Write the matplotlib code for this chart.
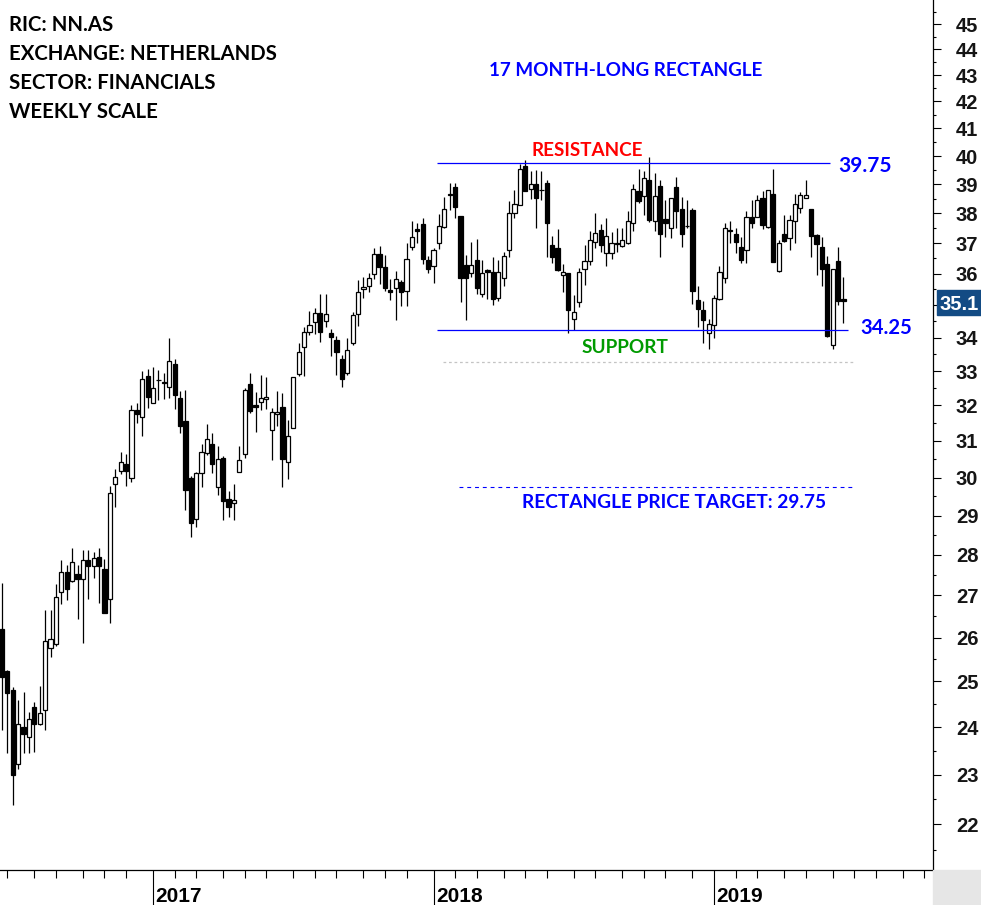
import numpy as np
import pandas as pd
import matplotlib
matplotlib.use("Agg")
from matplotlib import pyplot as plt
from matplotlib.patches import Rectangle
from matplotlib.ticker import FixedLocator, NullFormatter

# NN.AS weekly bars, first bar is the week ending 2016-06-24
start_date = "2016-06-24"

opens = [26.20, 25.24, 24.81, 23.23, 24.00, 23.79, 24.44, 24.07, 24.36, 25.77,
         25.86, 27.09, 27.57, 27.35, 27.52, 27.41, 27.87, 27.72, 27.94, 27.64,
         26.91, 29.82, 30.18, 30.36, 29.99, 31.87, 31.68, 32.86, 32.06, 32.73,
         32.65, 32.53, 33.21, 32.21, 31.56, 29.99, 28.90, 30.12, 30.66, 30.91,
         29.76, 30.52, 29.43, 29.32, 30.16, 30.63, 32.62, 32.02, 32.09, 32.19,
         31.30, 31.77, 31.95, 30.43, 31.36, 32.91, 33.71, 34.18, 34.49, 34.75,
         34.52, 34.13, 33.93, 33.36, 32.95, 33.85, 34.72, 35.50, 35.62, 35.98,
         36.64, 36.21, 35.48, 35.53, 35.73, 35.46, 36.88, 37.46, 37.63, 36.46,
         36.26, 36.99, 37.54, 38.63, 38.89, 37.90, 36.30, 36.01, 36.44, 35.34,
         36.12, 36.05, 35.24, 35.85, 36.77, 38.00, 38.30, 39.63, 38.83, 39.00,
         38.79, 39.06, 36.93, 36.83, 35.96, 36.01, 34.56, 35.11, 36.17, 36.41,
         37.04, 37.45, 36.69, 36.66, 37.02, 36.91, 36.99, 37.69, 38.76, 38.59,
         39.16, 37.75, 38.93, 37.80, 37.49, 38.89, 38.16, 37.58, 38.13, 35.16,
         34.85, 34.15, 34.38, 35.21, 35.85, 37.43, 37.32, 36.88, 36.79, 37.88,
         37.88, 38.51, 37.54, 38.67, 36.10, 37.32, 37.16, 37.75, 38.19, 38.54,
         38.16, 37.27, 36.86, 36.32, 33.78, 36.41, 35.21]

highs = [27.31, 25.26, 24.88, 24.59, 24.77, 24.32, 24.55, 24.90, 26.65, 26.65,
         27.27, 27.87, 27.74, 28.17, 27.74, 28.12, 28.12, 28.07, 28.17, 27.89,
         29.78, 30.23, 30.70, 30.64, 32.01, 32.08, 32.99, 33.05, 33.13, 33.03,
         32.95, 33.98, 33.35, 32.42, 32.45, 30.05, 30.16, 30.92, 31.48, 31.22,
         30.86, 30.59, 29.65, 29.83, 30.86, 32.50, 32.93, 32.40, 32.89, 32.82,
         31.92, 32.42, 32.35, 31.59, 32.82, 33.83, 34.33, 34.82, 34.92, 35.35,
         35.35, 34.28, 34.05, 33.48, 33.98, 34.78, 35.80, 35.89, 36.01, 36.83,
         36.90, 36.60, 35.83, 36.09, 35.80, 36.99, 37.73, 37.66, 37.83, 36.57,
         36.83, 37.97, 38.56, 39.05, 39.05, 37.90, 36.60, 37.03, 37.13, 36.44,
         36.14, 36.53, 36.44, 36.71, 38.41, 38.81, 39.73, 39.84, 39.47, 39.52,
         39.47, 39.14, 37.23, 37.46, 36.33, 36.01, 35.32, 36.19, 36.93, 37.41,
         38.00, 37.63, 37.83, 37.37, 37.49, 37.52, 38.07, 39.02, 39.55, 39.47,
         39.98, 39.38, 39.16, 38.47, 38.54, 39.26, 38.56, 38.45, 38.19, 35.61,
         35.14, 34.56, 35.32, 36.25, 37.67, 37.73, 37.49, 37.19, 38.07, 38.45,
         38.62, 38.77, 38.81, 39.55, 37.10, 37.94, 37.94, 38.67, 38.74, 39.16,
         38.16, 37.29, 37.19, 36.57, 36.17, 36.86, 35.90]

lows = [23.94, 23.45, 22.38, 23.11, 23.45, 23.45, 23.47, 24.05, 23.94, 25.55,
        25.80, 26.79, 26.89, 27.32, 26.44, 25.88, 26.92, 27.42, 26.82, 26.59,
        26.35, 29.23, 30.09, 29.78, 29.87, 31.51, 31.14, 31.94, 32.06, 32.16,
        32.18, 32.21, 31.90, 31.22, 29.14, 28.44, 28.71, 29.76, 30.61, 30.12,
        29.54, 28.88, 28.95, 28.88, 30.16, 30.54, 31.79, 31.26, 31.87, 31.89,
        30.48, 31.43, 29.74, 29.97, 31.36, 32.86, 32.86, 34.08, 34.10, 33.88,
        34.33, 33.46, 32.89, 32.52, 32.89, 33.78, 34.36, 35.23, 35.43, 35.83,
        35.67, 35.45, 35.18, 34.54, 34.97, 34.97, 36.79, 37.01, 36.33, 36.03,
        35.71, 36.80, 37.49, 38.10, 37.85, 35.11, 34.54, 35.90, 35.37, 35.27,
        35.21, 35.02, 35.14, 35.62, 36.55, 37.85, 38.30, 38.77, 38.48, 37.51,
        38.47, 36.53, 36.35, 36.10, 35.43, 34.13, 34.23, 34.95, 35.64, 36.28,
        36.83, 36.71, 36.25, 36.49, 36.71, 36.88, 36.96, 37.41, 38.34, 37.94,
        37.71, 37.41, 36.55, 37.21, 37.16, 37.52, 36.88, 37.49, 35.03, 34.33,
        33.83, 33.65, 33.98, 35.16, 35.71, 37.01, 36.68, 36.35, 36.35, 37.49,
        37.88, 37.46, 37.51, 36.39, 36.07, 37.04, 36.77, 37.01, 38.00, 38.54,
        36.55, 35.96, 35.61, 34.03, 33.65, 35.00, 34.46]

closes = [25.10, 24.74, 22.99, 24.06, 23.85, 24.17, 24.07, 24.30, 25.92, 25.96,
          26.95, 27.57, 27.15, 27.82, 27.41, 27.87, 27.72, 27.92, 27.72, 26.59,
          29.58, 30.01, 30.42, 30.18, 31.86, 31.75, 32.76, 32.23, 32.50, 32.74,
          32.66, 33.30, 32.29, 31.43, 29.67, 28.80, 30.12, 30.69, 31.05, 30.36,
          30.50, 29.37, 29.23, 29.41, 30.48, 32.45, 31.85, 31.96, 32.21, 32.25,
          31.82, 31.82, 30.50, 31.13, 32.82, 33.56, 34.16, 34.38, 34.75, 34.18,
          34.72, 34.03, 33.58, 32.76, 33.63, 34.70, 35.41, 35.57, 35.85, 36.64,
          36.23, 35.55, 35.43, 35.82, 35.41, 36.49, 37.19, 37.39, 36.49, 36.14,
          36.77, 37.56, 38.16, 38.67, 38.21, 35.85, 35.85, 36.30, 35.53, 36.01,
          36.07, 35.21, 36.05, 36.59, 38.00, 38.31, 39.55, 38.77, 39.02, 38.54,
          38.80, 37.69, 36.53, 36.12, 36.05, 34.85, 34.80, 36.05, 36.41, 37.10,
          37.35, 36.93, 37.24, 36.99, 36.96, 37.10, 37.73, 38.85, 38.43, 39.23,
          37.77, 38.59, 37.29, 37.66, 38.54, 38.08, 37.32, 37.56, 35.46, 34.87,
          34.54, 34.42, 35.24, 36.05, 37.52, 37.41, 37.04, 36.46, 37.86, 37.66,
          38.47, 37.60, 38.81, 36.39, 37.01, 37.08, 37.79, 38.31, 38.62, 38.62,
          37.23, 36.96, 36.17, 34.06, 36.17, 35.14, 35.15]

resistance = 39.75
support = 34.25
target = 29.75
grey_level = 33.27
last_price = "35.1"

W, H = 981, 905
BLUE = "#0000ff"


def px(x, y):
    # pixel position -> figure fraction
    return x / W, 1 - y / H


opens = np.array(opens)
highs = np.array(highs)
lows = np.array(lows)
closes = np.array(closes)

fig = plt.figure(figsize=(W / 100, H / 100), dpi=100)
ax = fig.add_axes([0, 35 / H, 932.5 / W, 870 / H])

n = len(closes)
x = np.arange(n)
up = closes >= opens
body_lo = np.minimum(opens, closes)
body_h = np.maximum(np.abs(closes - opens), 0.015)

ax.vlines(x, lows, highs, color="black", lw=0.9, zorder=2)
ax.bar(x[up], body_h[up], bottom=body_lo[up], width=0.78, color="white",
       edgecolor="black", lw=0.9, zorder=3)
ax.bar(x[~up], body_h[~up], bottom=body_lo[~up], width=0.78, color="black",
       edgecolor="black", lw=0.9, zorder=3)

ax.set_yscale("log")
ax.set_ylim(21.12, 45.99)
ax.set_xlim(-0.37, 172.5)

# rectangle lines
ax.hlines(resistance, 80.6, 153.5, color=BLUE, lw=0.9, zorder=4)
ax.hlines(support, 80.6, 156.8, color=BLUE, lw=0.9, zorder=4)
ax.hlines(grey_level, 81.8, 158.0, color="#c4c4c4", lw=0.9,
          linestyles=(0, (2.2, 2.2)), zorder=1)
ax.hlines(target, 84.7, 157.7, color=BLUE, lw=0.8,
          linestyles=(0, (3.5, 3.5)), zorder=1)

# y axis on the right, the 35 label sits under the last price tag
ax.yaxis.tick_right()
yt = list(range(22, 46))
ax.yaxis.set_major_locator(FixedLocator(yt))
ax.set_yticklabels(["" if v == 35 else str(v) for v in yt])
ax.yaxis.set_minor_locator(FixedLocator(np.arange(21.5, 46, 1.0)))
ax.yaxis.set_minor_formatter(NullFormatter())
ax.tick_params(axis="y", which="major", direction="out", length=6, width=0.8,
               pad=27, labelsize=14.5, labelcolor="#151515")
ax.tick_params(axis="y", which="minor", direction="out", length=2.5, width=0.8)
for lab in ax.get_yticklabels():
    lab.set_horizontalalignment("right")
    lab.set_fontweight("bold")
    lab.set_family(["Liberation Sans", "DejaVu Sans"])

# x axis: month ticks, year ticks
dates = pd.date_range(start_date, periods=173, freq="7D")
month_idx = [i for i in range(1, len(dates)) if dates[i].month != dates[i - 1].month]
year_idx = [i for i in month_idx if dates[i].month == 1]
ax.set_xticks(year_idx)
ax.set_xticks([i for i in month_idx if i not in year_idx], minor=True)
ax.set_xticklabels([])
ax.tick_params(axis="x", which="major", direction="out", length=25, width=0.8)
ax.tick_params(axis="x", which="minor", direction="out", length=6, width=0.8)
for i in year_idx:
    ax.text(i + 0.45, -0.0368, str(dates[i].year), transform=ax.get_xaxis_transform(),
            ha="left", va="baseline", fontsize=15, fontweight="bold",
            family=["Liberation Sans", "DejaVu Sans"], clip_on=False)

ax.spines["top"].set_visible(False)
ax.spines["left"].set_visible(False)
ax.spines["right"].set_linewidth(0.9)
ax.spines["bottom"].set_linewidth(0.9)

# grey corner and last price tag
fig.patches.append(Rectangle(px(933, 905), 48 / W, 35 / H, transform=fig.transFigure,
                             color="#e6e6e6", zorder=0))
fig.patches.append(Rectangle(px(937, 315), 44 / W, 25 / H, transform=fig.transFigure,
                             color="#134b84", zorder=5))
fig.text(*px(979, 310), last_price, ha="right", va="baseline", color="white",
         fontsize=14.5, fontweight="bold", family=["Liberation Sans", "DejaVu Sans"],
         zorder=6)

# annotations
font = dict(fontweight="bold", family=["Lato", "DejaVu Sans"])
info = ["RIC: NN.AS", "EXCHANGE: NETHERLANDS", "SECTOR: FINANCIALS", "WEEKLY SCALE"]
for k, line in enumerate(info):
    fig.text(*px(9, 31 + 29 * k), line, ha="left", va="baseline", color="black",
             fontsize=14.7, **font)

fig.text(*px(626, 76), "17 MONTH-LONG RECTANGLE", ha="center", va="baseline",
         color=BLUE, fontsize=13.6, **font)
fig.text(*px(587.5, 156), "RESISTANCE", ha="center", va="baseline", color="#ff0000",
         fontsize=13.6, **font)
fig.text(*px(625, 353), "SUPPORT", ha="center", va="baseline", color="#009a00",
         fontsize=13.7, **font)
fig.text(*px(838, 172), "39.75", ha="left", va="baseline", color=BLUE, fontsize=15, **font)
fig.text(*px(860, 334), "34.25", ha="left", va="baseline", color=BLUE, fontsize=14.6, **font)
fig.text(*px(674.5, 508), "RECTANGLE PRICE TARGET: 29.75", ha="center", va="baseline",
         color=BLUE, fontsize=13.8, **font)

fig.savefig("out.png", dpi=100)
